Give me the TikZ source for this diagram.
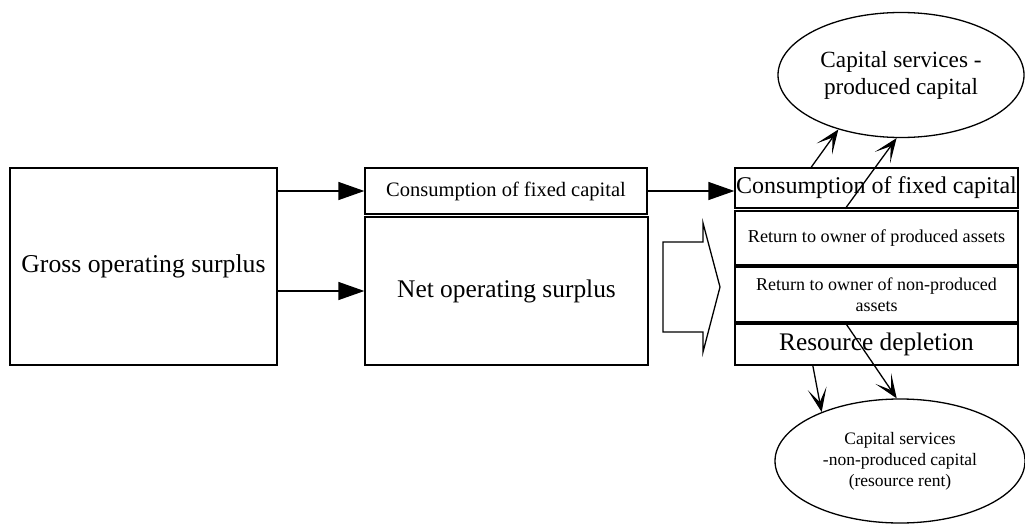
\documentclass[tikz,border=0pt]{standalone}
\usepackage{fontspec}
\setmainfont{Liberation Serif}
\usetikzlibrary{shapes.geometric,arrows.meta,calc}
\tikzset{
  box/.style={draw,line width=1.3pt,rectangle,inner sep=0pt,align=center},
  oval/.style={draw,line width=1.3pt,ellipse,inner sep=0pt,align=center},
  harrow/.style={line width=1.3pt,-{Triangle[length=26pt,width=18pt]}},
  varrow/.style={line width=1.3pt,-{Stealth[length=24pt,width=19pt,inset=14pt]}},
  fs/.style args={#1/#2}{font=\fontsize{#1}{#2}\selectfont}
}
\begin{document}
\begin{tikzpicture}[x=1pt,y=-1pt]
\useasboundingbox (0,0) rectangle (1025,527);
\node[box,minimum width=267pt,minimum height=197pt,fs=25.7/30] (gross) at (143.5,266.5) {Gross operating surplus};
\node[box,minimum width=282pt,minimum height=46pt,fs=20.5/24] (cfc1) at (506,191) {Consumption of fixed capital};
\node[box,minimum width=283pt,minimum height=148pt,fs=25.4/30] (nos) at (506.5,291) {Net operating surplus};
\node[box,minimum width=283pt,minimum height=40pt,fs=24/28] (cfc2) at (876.5,188) {Consumption of fixed capital};
\node[box,minimum width=283pt,minimum height=54pt,fs=18.2/21] (rp) at (876.5,238) {Return to owner of produced assets};
\node[box,minimum width=283pt,minimum height=55pt,fs=18/21] (rnp) at (876.5,294.5) {Return to owner of non-produced\\assets};
\node[box,minimum width=283pt,minimum height=41pt,fs=25.3/29] (rd) at (876.5,344.5) {Resource depletion};
\node[oval,minimum width=246pt,minimum height=125pt,fs=23.2/27] (etop) at (901,75) {Capital services -\\produced capital};
\node[oval,minimum width=250pt,minimum height=124pt,fs=17.5/21] (ebot) at (900,461) {Capital services\\-non-produced capital\\(resource rent)};
% horizontal arrows
\draw[harrow] (gross.east |- cfc1.west) -- (cfc1.west);
\draw[harrow] (gross.east |- nos.west) -- (nos.west);
\draw[harrow] (cfc1.east) -- (cfc1.east -| cfc2.west);
% block arrow
\coordinate (b1) at (663,242);
\coordinate (b2) at (703,242);
\coordinate (b3) at (703,223);
\coordinate (b4) at (720,287);
\coordinate (b5) at (703,352);
\coordinate (b6) at (703,332);
\coordinate (b7) at (663,332);
\draw[line width=1.3pt] (b1) -- (b2) -- (b3) -- (b4) -- (b5) -- (b6) -- (b7) -- cycle;
% arrows to ellipses
\draw[varrow] ($(cfc2.north west)!0.27!(cfc2.north east)$) -- (etop.221);
\draw[varrow] ($(cfc2.south west)!0.39!(cfc2.south east)$) -- (etop.266);
\draw[varrow] ($(rd.south west)!0.276!(rd.south east)$) -- (ebot.148);
\draw[varrow] ($(rnp.south west)!0.39!(rnp.south east)$) -- (ebot.93);
\end{tikzpicture}
\end{document}
